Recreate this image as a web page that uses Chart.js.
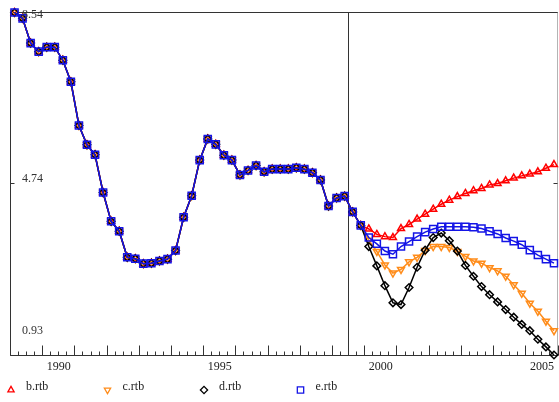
<!DOCTYPE html>
<html>
<head>
<meta charset="utf-8">
<script src="https://cdn.jsdelivr.net/npm/chart.js@4.4.1/dist/chart.umd.min.js"></script>
<style>
  html, body { margin: 0; padding: 0; background: #fff; }
</style>
</head>
<body>
<canvas id="myChart" width="559" height="402"></canvas>
<script>
// quarterly categories 1989Q1 .. 2005Q4
const quarters = [];
for (let yr = 1989; yr <= 2005; yr++) {
    for (let q = 1; q <= 4; q++) quarters.push(yr + 'Q' + q);
}
const yearLabels = ['1990', '1995', '2000', '2005'];
const yTicks = [0.93, 4.74, 8.54];
const splitQuarter = '1999Q3';

// shared history 1989Q1 .. 1999Q4
const history = [8.54, 8.41, 7.86, 7.67, 7.77, 7.77, 7.48, 7.00, 6.03, 5.60,
    5.38, 4.54, 3.90, 3.68, 3.10, 3.07, 2.96, 2.97, 3.02, 3.06,
    3.25, 3.99, 4.47, 5.26, 5.73, 5.61, 5.37, 5.26, 4.93, 5.03,
    5.14, 5.00, 5.06, 5.06, 5.06, 5.09, 5.06, 4.98, 4.82, 4.24,
    4.42, 4.46, 4.11, 3.81];

// forecasts 2000Q1 .. 2005Q4
const bForecast = [3.73, 3.61, 3.56, 3.54, 3.74, 3.83, 3.95, 4.06, 4.17, 4.28, 4.37, 4.45,
    4.52, 4.58, 4.63, 4.71, 4.74, 4.80, 4.86, 4.91, 4.95, 5.00, 5.08, 5.16];
const cForecast = [3.48, 3.23, 2.93, 2.75, 2.83, 3.00, 3.10, 3.25, 3.34, 3.34, 3.32, 3.23,
    3.12, 3.02, 2.97, 2.87, 2.80, 2.68, 2.49, 2.30, 2.08, 1.90, 1.68, 1.47];
const dForecast = [3.34, 2.91, 2.47, 2.09, 2.05, 2.43, 2.88, 3.26, 3.54, 3.64, 3.47, 3.24,
    2.92, 2.68, 2.45, 2.27, 2.11, 1.94, 1.77, 1.61, 1.47, 1.28, 1.11, 0.93];
const eForecast = [3.54, 3.40, 3.24, 3.17, 3.34, 3.45, 3.56, 3.66, 3.73, 3.78, 3.78, 3.78,
    3.78, 3.77, 3.74, 3.68, 3.62, 3.53, 3.46, 3.38, 3.26, 3.15, 3.06, 2.97];

function series(label, forecast, color, style, rotation, radius, order) {
    return {
        label: label,
        data: history.concat(forecast),
        borderColor: color,
        borderWidth: 1.5,
        pointStyle: style,
        pointRotation: rotation,
        pointRadius: radius,
        pointBorderColor: color,
        pointBackgroundColor: 'rgba(0,0,0,0)',
        pointBorderWidth: 1.5,
        tension: 0,
        clip: false,
        order: order
    };
}

const serif = '12px "Liberation Serif", "Times New Roman", serif';

const framePlugin = {
    id: 'frame',
    beforeDatasetsDraw(chart) {
        const {ctx, chartArea: a, scales: {x, y}} = chart;
        const L = Math.floor(a.left) + 0.5, R = Math.floor(a.right) - 0.5;
        const T = Math.floor(a.top) + 0.5, B = Math.floor(a.bottom) + 0.5;
        const seg = (x1, y1, x2, y2) => { ctx.beginPath(); ctx.moveTo(x1, y1); ctx.lineTo(x2, y2); ctx.stroke(); };
        ctx.save();
        ctx.lineWidth = 1;
        ctx.strokeStyle = '#b4b4b4';
        seg(R, T, R, B);
        ctx.strokeStyle = '#333';
        seg(L, T, R, T);
        seg(L, T, L, B);
        seg(L, B, R, B);
        // quarter ticks, longer at year boundaries
        for (let i = 0; i <= quarters.length; i++) {
            const px = Math.floor(x.getPixelForValue(i - 0.5)) + 0.5;
            const len = i % 4 === 0 ? 10 : 4;
            seg(px, B, px, B - len);
        }
        yTicks.forEach(v => {
            const py = Math.floor(y.getPixelForValue(v)) + 0.5;
            seg(L, py, L + 4, py);
            seg(R - 4, py, R, py);
        });
        // forecast divider
        const sx = Math.floor(x.getPixelForValue(quarters.indexOf(splitQuarter) - 0.5)) + 0.5;
        seg(sx, T, sx, B);
        ctx.restore();
    },
    afterDraw(chart) {
        const {ctx, chartArea: a, scales: {x, y}} = chart;
        ctx.save();
        ctx.font = serif;
        ctx.textBaseline = 'middle';

        // year labels centred in each year
        ctx.fillStyle = '#222';
        ctx.textAlign = 'center';
        yearLabels.forEach(yr => {
            const px = x.getPixelForValue(quarters.indexOf(yr + 'Q1') + 1.5);
            ctx.fillText(yr, px, 367);
        });

        // value labels inside the plot
        ctx.fillStyle = '#333';
        ctx.textAlign = 'left';
        const nudge = [-24, -5, 2.5];
        yTicks.forEach((v, i) => {
            ctx.fillText(v.toFixed(2), a.left + 11.5, y.getPixelForValue(v) + nudge[i]);
        });

        // legend
        const sets = chart.data.datasets;
        sets.forEach((ds, i) => {
            const mx = a.left + 0.5 + i * 96.5;
            ctx.strokeStyle = ds.borderColor;
            ctx.fillStyle = 'rgba(0,0,0,0)';
            ctx.lineWidth = 1.3;
            Chart.helpers.drawPoint(ctx, {
                pointStyle: ds.pointStyle,
                rotation: ds.pointRotation,
                radius: ds.pointStyle === 'rect' ? 4.5 : 3.6,
                borderWidth: 1.3
            }, mx, 390);
            ctx.fillStyle = '#222';
            ctx.fillText(ds.label, mx + 15, 386.5);
        });
        ctx.restore();
    }
};

const ctx = document.getElementById('myChart');

const chart = new Chart(ctx, {
    type: 'line',
    data: {
        labels: quarters,
        datasets: [
            series('b.rtb', bForecast, '#ff0000', 'triangle', 0, 4, 4),
            series('c.rtb', cForecast, '#ff8c1a', 'triangle', 180, 4, 3),
            series('d.rtb', dForecast, '#000000', 'rectRot', 0, 3.8, 2),
            series('e.rtb', eForecast, '#1414e6', 'rect', 0, 5, 1)
        ]
    },
    options: {
        responsive: false,
        animation: false,
        layout: { autoPadding: false, padding: { left: 10.5, right: 1, top: 12.5, bottom: 47 } },
        plugins: { legend: { display: false }, tooltip: { enabled: false } },
        scales: {
            x: { type: 'category', offset: true, display: false },
            y: { min: 0.93, max: 8.54, display: false }
        }
    },
    plugins: [framePlugin]
});
</script>
</body>
</html>
